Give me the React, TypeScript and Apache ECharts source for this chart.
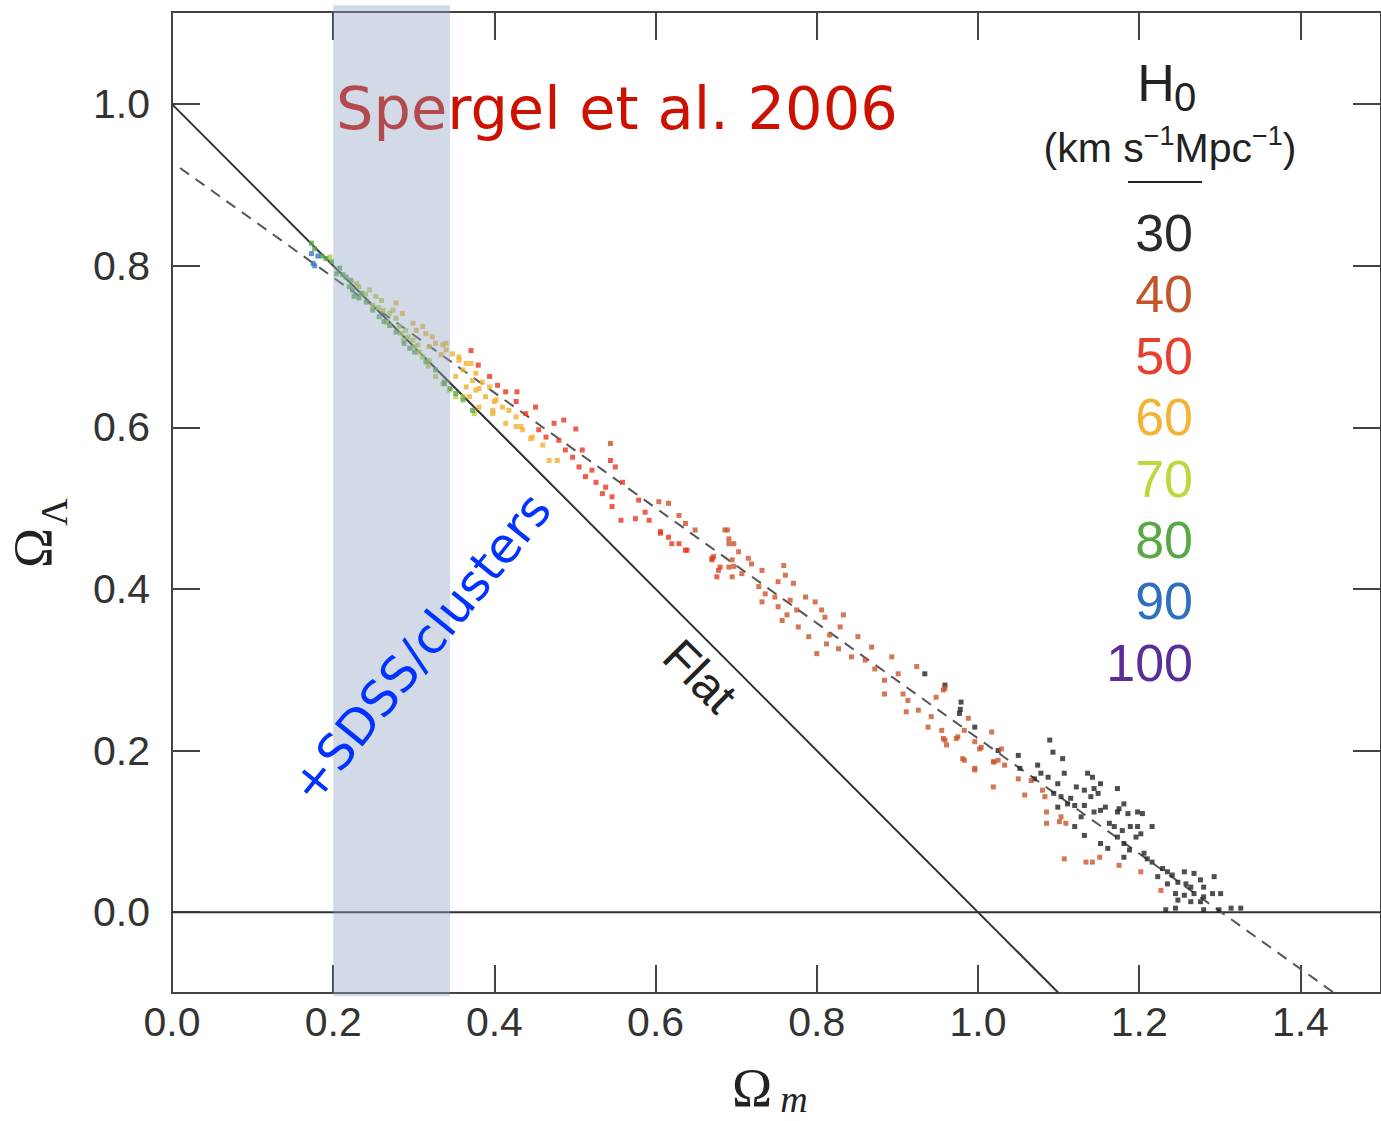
import React, { useEffect, useRef } from "react";
import * as echarts from "echarts";

// ---- data (Omega_m, Omega_Lambda) points by H0 value ----
const h0Labels = ["30", "40", "50", "60", "70", "80", "90", "100"];
const h0Colors = ["#2b2b2b", "#c4552a", "#e8402e", "#f3b335", "#c0d63c", "#58a845", "#2f6fbf", "#5b2d9a"];
const pointColors = ["#222222", "#c8552a", "#e8361f", "#f0b030", "#b4cc3e", "#5aa848", "#3a78c0", "#5b2d9a"];

const h30: number[][] = [
  [0.934,0.295],[0.959,0.281],[0.979,0.260],[0.978,0.251],[0.996,0.229],[0.977,0.246],[1.025,0.200],[1.050,0.194],
  [1.052,0.178],[1.089,0.213],[1.093,0.198],[1.105,0.190],[1.074,0.182],[1.078,0.172],[1.070,0.165],[1.087,0.167],
  [1.099,0.159],[1.107,0.172],[1.094,0.147],[1.103,0.143],[1.111,0.134],[1.120,0.132],[1.122,0.155],[1.136,0.172],
  [1.142,0.167],[1.152,0.159],[1.144,0.153],[1.132,0.151],[1.140,0.143],[1.149,0.147],[1.132,0.132],[1.144,0.124],
  [1.128,0.118],[1.120,0.106],[1.132,0.095],[1.152,0.126],[1.158,0.130],[1.173,0.153],[1.175,0.128],[1.181,0.134],
  [1.186,0.122],[1.163,0.110],[1.169,0.106],[1.179,0.101],[1.189,0.106],[1.198,0.106],[1.202,0.097],[1.196,0.093],
  [1.173,0.093],[1.181,0.085],[1.152,0.085],[1.161,0.079],[1.188,0.077],[1.181,0.068],[1.198,0.124],[1.204,0.122],
  [1.216,0.106],[1.206,0.073],[1.210,0.066],[1.216,0.062],[1.229,0.054],[1.235,0.050],[1.241,0.046],[1.256,0.050],
  [1.268,0.048],[1.235,0.035],[1.248,0.037],[1.258,0.035],[1.264,0.031],[1.276,0.040],[1.280,0.031],[1.293,0.044],
  [1.245,0.023],[1.256,0.021],[1.268,0.023],[1.280,0.019],[1.291,0.023],[1.301,0.023],[1.248,0.015],[1.264,0.013],
  [1.276,0.013],[1.233,0.003],[1.245,0.005],[1.280,0.003],[1.299,0.003],[1.314,0.005],[1.326,0.005],[1.099,0.130],
  [1.115,0.141],[1.173,0.124],[1.223,0.044],
];
const h40: number[][] = [
  [0.544,0.580],[0.604,0.508],[0.616,0.506],[0.629,0.491],[0.637,0.481],[0.649,0.473],[0.670,0.436],[0.678,0.423],
  [0.686,0.473],[0.691,0.456],[0.695,0.436],[0.697,0.428],[0.689,0.473],[0.691,0.462],[0.697,0.456],[0.703,0.446],
  [0.672,0.440],[0.691,0.427],[0.695,0.415],[0.707,0.419],[0.715,0.438],[0.719,0.431],[0.732,0.423],[0.759,0.429],
  [0.761,0.417],[0.752,0.409],[0.771,0.407],[0.728,0.403],[0.736,0.394],[0.732,0.384],[0.748,0.390],[0.752,0.378],
  [0.767,0.386],[0.763,0.368],[0.775,0.374],[0.786,0.390],[0.798,0.384],[0.806,0.374],[0.777,0.353],[0.757,0.361],
  [0.810,0.365],[0.833,0.368],[0.829,0.353],[0.790,0.341],[0.800,0.320],[0.816,0.343],[0.812,0.332],[0.827,0.326],
  [0.851,0.341],[0.843,0.316],[0.860,0.312],[0.868,0.328],[0.872,0.301],[0.884,0.287],[0.893,0.316],[0.901,0.295],
  [0.884,0.270],[0.907,0.270],[0.913,0.262],[0.911,0.248],[0.926,0.250],[0.924,0.304],[0.942,0.242],[0.938,0.229],
  [0.948,0.266],[0.955,0.225],[0.959,0.213],[0.957,0.275],[0.973,0.215],[0.983,0.225],[0.988,0.240],[1.004,0.204],
  [1.017,0.223],[0.981,0.190],[0.996,0.178],[1.020,0.186],[0.959,0.277],[0.957,0.215],[0.961,0.207],[0.975,0.217],
  [0.996,0.211],[1.002,0.202],[0.996,0.176],[1.025,0.188],[1.033,0.182],[1.029,0.202],[1.019,0.155],[1.050,0.165],
  [1.058,0.145],[1.066,0.163],[1.080,0.151],[1.083,0.143],[1.085,0.124],[1.085,0.110],[1.101,0.112],[1.109,0.110],
  [1.103,0.118],[1.107,0.066],[1.134,0.062],[1.142,0.062],[1.151,0.068],[1.175,0.058],[1.202,0.050],[1.227,0.027],
  [0.983,0.188],[1.019,0.186],
];
const h50: number[][] = [
  [0.371,0.695],[0.380,0.677],[0.394,0.663],[0.404,0.652],[0.414,0.644],[0.427,0.632],[0.428,0.644],[0.439,0.617],
  [0.451,0.625],[0.455,0.597],[0.464,0.588],[0.474,0.605],[0.480,0.584],[0.486,0.609],[0.488,0.572],[0.497,0.563],
  [0.501,0.598],[0.505,0.551],[0.509,0.572],[0.513,0.539],[0.521,0.547],[0.526,0.532],[0.534,0.518],[0.538,0.526],
  [0.544,0.559],[0.546,0.514],[0.546,0.502],[0.550,0.551],[0.557,0.485],[0.559,0.532],[0.575,0.487],[0.579,0.510],
  [0.587,0.495],[0.592,0.485],[0.606,0.471],[0.606,0.469],[0.616,0.464],[0.620,0.456],[0.629,0.456],[0.637,0.448],
  [0.639,0.448],[0.670,0.438],[0.676,0.415],[0.680,0.427],
];
const h60: number[][] = [
  [0.278,0.754],[0.286,0.741],[0.299,0.729],[0.303,0.720],[0.311,0.725],[0.315,0.716],[0.319,0.700],[0.323,0.712],
  [0.327,0.704],[0.334,0.690],[0.336,0.702],[0.340,0.696],[0.340,0.704],[0.348,0.691],[0.352,0.663],[0.356,0.683],
  [0.356,0.687],[0.361,0.671],[0.365,0.650],[0.365,0.679],[0.369,0.638],[0.371,0.679],[0.373,0.658],[0.377,0.667],
  [0.377,0.646],[0.381,0.648],[0.381,0.625],[0.385,0.656],[0.389,0.638],[0.394,0.650],[0.398,0.621],[0.398,0.617],
  [0.400,0.632],[0.402,0.634],[0.410,0.625],[0.414,0.605],[0.418,0.621],[0.427,0.601],[0.427,0.613],[0.433,0.601],
  [0.435,0.597],[0.445,0.586],[0.447,0.588],[0.460,0.578],[0.468,0.559],[0.478,0.559],
];
const h70: number[][] = [
  [0.196,0.811],[0.229,0.778],[0.232,0.774],[0.245,0.770],[0.249,0.751],[0.253,0.762],[0.260,0.757],[0.262,0.745],
  [0.266,0.730],[0.270,0.741],[0.274,0.745],[0.278,0.735],[0.282,0.725],[0.287,0.708],[0.290,0.720],[0.293,0.712],
  [0.299,0.708],[0.301,0.700],[0.307,0.693],[0.311,0.687],[0.319,0.683],[0.327,0.663],[0.336,0.654],[0.352,0.638],
  [0.361,0.638],[0.375,0.617],[0.240,0.765],[0.256,0.748],[0.284,0.716],[0.305,0.702],[0.318,0.676],[0.344,0.646],
];
const h80: number[][] = [
  [0.173,0.828],[0.177,0.821],[0.191,0.809],[0.198,0.805],[0.204,0.790],[0.208,0.797],[0.216,0.786],[0.220,0.774],
  [0.222,0.782],[0.224,0.770],[0.226,0.762],[0.235,0.766],[0.241,0.755],[0.249,0.745],[0.257,0.737],[0.270,0.726],
  [0.278,0.718],[0.288,0.704],[0.301,0.693],[0.315,0.681],[0.327,0.671],[0.338,0.656],[0.338,0.654],[0.352,0.642],
  [0.361,0.634],[0.373,0.621],[0.186,0.812],[0.212,0.789],[0.232,0.760],[0.263,0.731],[0.295,0.698],[0.345,0.648],
];
const h90: number[][] = [[0.173,0.815],[0.175,0.803],[0.177,0.800],[0.181,0.812]];
const h100: number[][] = [];
const seriesPoints = [h30, h40, h50, h60, h70, h80, h90, h100];

// reference lines
const flatLine = [[0, 1], [1.1, -0.1]];
const fitLine = [[0.01, 0.921], [1.442, -0.1]];
const zeroLine = [[0, 0], [1.5, 0]];
const band = { x0: 0.2, x1: 0.345, y0: -0.104, y1: 1.1225 };

const xTicks = [0, 0.2, 0.4, 0.6, 0.8, 1.0, 1.2, 1.4];
const yTicks = [0, 0.2, 0.4, 0.6, 0.8, 1.0];

const FONT = "Liberation Sans";
const AX = "#444444";

export default function App() {
  const ref = useRef<HTMLDivElement>(null);
  useEffect(() => {
    if (!ref.current) return;
    const chart = echarts.init(ref.current, undefined, { renderer: "svg" });
    const axisBase = (pos: string, ticks: number[], tickVals: number[], showLabel: boolean, margin = 8) => ({
      type: "value",
      position: pos,
      axisLine: { show: true, onZero: false, lineStyle: { color: AX, width: 2 } },
      axisTick: { show: true, inside: true, length: 28, customValues: tickVals, lineStyle: { color: AX, width: 2 } },
      axisLabel: {
        show: showLabel,
        customValues: ticks,
        formatter: (v: number) => v.toFixed(1),
        fontSize: 41,
        fontFamily: FONT,
        color: "#333",
        margin,
      },
      splitLine: { show: false },
    });
    const option: any = {
      animation: false,
      backgroundColor: "#ffffff",
      grid: { left: 172, top: 12, width: 1212, height: 981, containLabel: false },
      xAxis: [
        { ...axisBase("bottom", xTicks, xTicks.slice(1), true, 8), min: 0, max: 1.5 },
        { ...axisBase("top", xTicks, xTicks.slice(1), false), min: 0, max: 1.5 },
      ],
      yAxis: [
        { ...axisBase("left", yTicks, yTicks, true, 22), min: -0.1, max: 1.114 },
        { ...axisBase("right", yTicks, yTicks.slice(1), false), min: -0.1, max: 1.114 },
      ],
      series: [
        { type: "line", data: zeroLine, symbol: "none", lineStyle: { color: "#333", width: 2 }, z: 1 },
        { type: "line", data: flatLine, symbol: "none", lineStyle: { color: "#333", width: 2 }, z: 1 },
        { type: "line", data: fitLine, symbol: "none", lineStyle: { color: "#555", width: 2, type: [11, 8] }, z: 1 },
        ...seriesPoints.map((pts, i) => ({
          type: "scatter",
          name: h0Labels[i],
          data: pts,
          symbol: "rect",
          symbolSize: 5,
          itemStyle: { color: pointColors[i] },
          z: 3,
        })),
      ],
    };
    chart.setOption(option);

    const p0 = chart.convertToPixel({ xAxisIndex: 0, yAxisIndex: 0 }, [band.x0, band.y1]) as number[];
    const p1 = chart.convertToPixel({ xAxisIndex: 0, yAxisIndex: 0 }, [band.x1, band.y0]) as number[];

    const legendTexts = h0Labels.map((lab, i) => ({
      type: "text",
      x: 1193,
      y: 233 + i * 61.4,
      z: 20,
      style: { text: lab, fill: h0Colors[i], font: `52px ${FONT}`, align: "right", verticalAlign: "middle" },
    }));

    chart.setOption({
      graphic: {
        elements: [
          { type: "text", x: 336, y: 108, z: 20,
            style: { text: "Spergel et al. 2006", fill: "#cc1100", font: "59px DejaVu Sans", align: "left", verticalAlign: "middle" } },
          { type: "text", x: 1156, y: 83, z: 20,
            style: { text: "H", fill: "#222", font: `52px ${FONT}`, align: "center", verticalAlign: "middle" } },
          { type: "text", x: 1185, y: 97, z: 20,
            style: { text: "0", fill: "#222", font: `40px ${FONT}`, align: "center", verticalAlign: "middle" } },
          { type: "text", x: 1170, y: 145, z: 20,
            style: {
              text: "{n|(km s}{s|−1}{n|Mpc}{s|−1}{n|)}",
              fill: "#222",
              align: "center",
              verticalAlign: "middle",
              rich: {
                n: { font: `41px ${FONT}`, fill: "#222", lineHeight: 46, verticalAlign: "bottom" },
                s: { font: `27px ${FONT}`, fill: "#222", lineHeight: 46, verticalAlign: "top" },
              },
            } },
          { type: "line", z: 20, shape: { x1: 1128, y1: 182, x2: 1202, y2: 182 }, style: { stroke: "#222", lineWidth: 2 } },
          ...legendTexts,
          { type: "text", x: 752, y: 1088, z: 20,
            style: { text: "Ω", fill: "#222", font: "54px Liberation Serif", align: "center", verticalAlign: "middle" } },
          { type: "text", x: 794, y: 1099, z: 20,
            style: { text: "m", fill: "#222", font: "italic 38px Liberation Serif", align: "center", verticalAlign: "middle" } },
          { type: "text", x: 33, y: 548, z: 20, rotation: Math.PI / 2,
            style: { text: "Ω", fill: "#222", font: "54px Liberation Serif", align: "center", verticalAlign: "middle" } },
          { type: "text", x: 54, y: 512, z: 20, rotation: Math.PI / 2,
            style: { text: "Λ", fill: "#222", font: "38px Liberation Serif", align: "center", verticalAlign: "middle" } },
          { type: "text", x: 700, y: 676, z: 20, rotation: -Math.PI / 4,
            style: { text: "Flat", fill: "#222", font: `48px ${FONT}`, align: "center", verticalAlign: "middle" } },
          { type: "rect", z: 50, shape: { x: p0[0], y: p0[1], width: p1[0] - p0[0], height: p1[1] - p0[1] },
            style: { fill: "rgba(142,162,195,0.4)" } },
          { type: "text", x: 421, y: 648, z: 60, rotation: 0.89,
            style: { text: "+SDSS/clusters", fill: "#0033ff", font: "49px DejaVu Sans", align: "center", verticalAlign: "middle" } },
        ],
      },
    });
    return () => chart.dispose();
  }, []);
  return (
    <div
      ref={ref}
      style={{ position: "fixed", left: 0, top: 0, width: 1381, height: 1121, background: "#fff" }}
    />
  );
}
